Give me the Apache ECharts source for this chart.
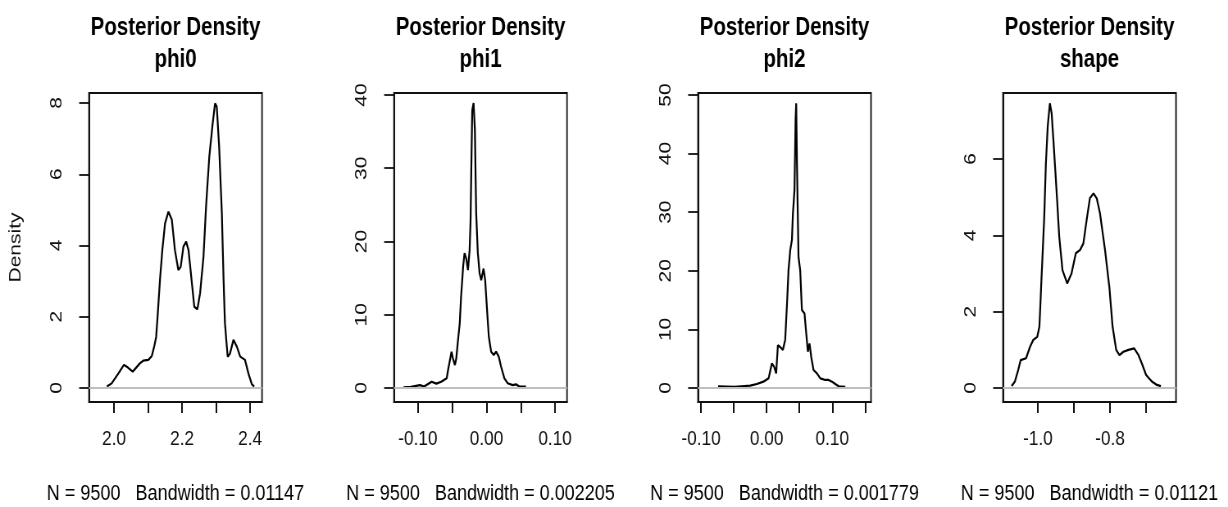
<!DOCTYPE html>
<html>
<head>
<meta charset="utf-8">
<script src="https://cdn.jsdelivr.net/npm/echarts@6/dist/echarts.min.js"></script>
<style>
html,body{margin:0;padding:0;background:#fff;overflow:hidden;}
#wrap{width:1228px;height:507px;overflow:hidden;position:relative;}
#c{width:1498px;height:507px;transform:scaleX(0.81976);transform-origin:0 0;position:absolute;left:0;top:0;}
</style>
</head>
<body>
<div id="wrap"><div id="c"></div></div>
<script>
// ---- data ----
const panelNames = ['phi0', 'phi1', 'phi2', 'shape'];
const bandwidths = ['0.01147', '0.002205', '0.001779', '0.01121'];
const sampleN = 9500;

const phi0X = [1.979,1.993,2.013,2.029,2.040,2.055,2.076,2.086,2.101,2.111,2.118,2.124,2.130,2.135,2.142,2.150,2.160,2.170,2.179,2.189,2.196,2.204,2.212,2.219,2.228,2.236,2.245,2.253,2.263,2.271,2.280,2.290,2.297,2.302,2.309,2.317,2.322,2.326,2.334,2.341,2.351,2.361,2.371,2.385,2.395,2.405,2.412];
const phi0Y = [0.04,0.13,0.41,0.65,0.58,0.46,0.69,0.77,0.79,0.90,1.16,1.44,2.28,3.03,3.87,4.62,4.95,4.72,3.87,3.31,3.40,3.97,4.11,3.87,3.03,2.28,2.21,2.66,3.69,5.18,6.49,7.43,7.99,7.90,6.77,4.90,3.03,1.82,0.88,0.97,1.35,1.16,0.88,0.79,0.41,0.11,0.04];

const phi1X = [-0.121,-0.110,-0.097,-0.091,-0.080,-0.073,-0.066,-0.058,-0.056,-0.051,-0.049,-0.046,-0.044,-0.042,-0.039,-0.037,-0.034,-0.032,-0.0295,-0.027,-0.0246,-0.0232,-0.0222,-0.0208,-0.0188,-0.0169,-0.0150,-0.0126,-0.0101,-0.0077,-0.0043,-0.0019,0.0005,0.0034,0.0068,0.0106,0.0140,0.0179,0.0213,0.0261,0.0309,0.0382,0.0430,0.0478,0.0575];
const phi1Y = [0.1,0.15,0.4,0.2,0.86,0.6,0.86,1.32,2.46,4.96,4.05,3.14,4.05,6.1,8.83,12.5,16.6,18.4,17.7,16.1,18.8,22.9,29.3,37.9,38.9,35.2,23.8,18.4,15.7,14.7,16.3,14.7,11.1,7.0,4.96,4.5,4.96,4.28,2.9,1.32,0.64,0.4,0.5,0.2,0.2];

const phi2X = [-0.074,-0.050,-0.038,-0.025,-0.015,-0.005,0.003,0.008,0.0115,0.0145,0.0171,0.0206,0.0247,0.0282,0.0308,0.0333,0.0359,0.0385,0.0400,0.0424,0.0440,0.0450,0.0461,0.0485,0.0511,0.0537,0.0577,0.0603,0.0628,0.0653,0.0679,0.0714,0.0766,0.0817,0.0893,0.0944,0.0995,0.1046,0.1097,0.1198];
const phi2Y = [0.3,0.2,0.3,0.4,0.68,1.08,1.65,4.2,3.6,2.5,7.3,7.0,6.5,8.2,13.9,20.1,23.5,25.3,29.8,33.8,45.7,48.6,38.9,22.4,20.1,13.3,12.7,9.3,6.2,7.6,5.3,3.07,2.5,1.65,1.37,1.37,1.08,0.68,0.3,0.2];

const shapeX = [-1.073,-1.064,-1.055,-1.048,-1.033,-1.022,-1.013,-1.002,-0.996,-0.990,-0.983,-0.978,-0.973,-0.967,-0.962,-0.956,-0.948,-0.941,-0.932,-0.919,-0.907,-0.895,-0.883,-0.874,-0.865,-0.856,-0.846,-0.837,-0.828,-0.814,-0.802,-0.793,-0.783,-0.774,-0.763,-0.749,-0.733,-0.721,-0.712,-0.700,-0.684,-0.670,-0.659];
const shapeY = [0.05,0.17,0.47,0.73,0.78,1.08,1.26,1.34,1.61,2.92,4.40,5.89,6.85,7.46,7.20,6.32,5.10,3.96,3.09,2.74,3.00,3.53,3.62,3.79,4.40,4.97,5.10,4.97,4.58,3.62,2.65,1.61,1.00,0.86,0.95,1.00,1.04,0.86,0.65,0.34,0.17,0.08,0.05];

// tick positions and tick labels
const xTicks = [[2.0,2.1,2.2,2.3,2.4],[-0.10,-0.05,0,0.05,0.10],[-0.10,-0.05,0,0.05,0.10,0.15],[-1.0,-0.9,-0.8,-0.7]];
const xLabels = [[2.0,2.2,2.4],[-0.10,0,0.10],[-0.10,0,0.10],[-1.0,-0.8]];
const xDigits = [1,2,2,1];
const yTicks = [[0,2,4,6,8],[0,10,20,30,40],[0,10,20,30,40,50],[0,2,4,6]];
const xRanges = [[1.9265,2.435],[-0.1348,0.1174],[-0.1046,0.159],[-1.097,-0.617]];
const yRanges = [[-0.393,8.281],[-1.911,40.27],[-2.39,50.34],[-0.367,7.73]];

const xs = [phi0X, phi1X, phi2X, shapeX];
const ys = [phi0Y, phi1Y, phi2Y, shapeY];

// ---- layout (chart is drawn wider, then squeezed horizontally by S like the reference) ----
const S = 0.81976;
const boxLeft = [89, 394, 698, 1003].map(v => v / S);
const boxW = 173 / S, boxTop = 93, boxH = 309;
const font = "'Liberation Sans', Arial, sans-serif";

const grids = [], xAxes = [], yAxes = [], series = [], graphics = [];
for (let i = 0; i < 4; i++) {
  grids.push({left: boxLeft[i], top: boxTop, width: boxW, height: boxH, show: true,
    borderColor: '#111', borderWidth: 1.8, backgroundColor: 'transparent', containLabel: false});
  xAxes.push({type: 'value', gridIndex: i, min: xRanges[i][0], max: xRanges[i][1],
    splitLine: {show: false},
    axisLine: {show: true, onZero: false, lineStyle: {color: '#111', width: 1.8}},
    axisTick: {show: true, inside: false, length: 11, customValues: xTicks[i], lineStyle: {color: '#111', width: 2}},
    axisLabel: {show: true, customValues: xLabels[i], margin: 27, color: '#111',
      fontFamily: font, fontSize: 21,
      formatter: (v) => Number(v).toFixed(xDigits[i])}
  });
  yAxes.push({type: 'value', gridIndex: i, min: yRanges[i][0], max: yRanges[i][1],
    splitLine: {show: false},
    axisLine: {show: true, onZero: false, lineStyle: {color: '#111', width: 2}},
    axisTick: {show: true, inside: false, length: 12, customValues: yTicks[i], lineStyle: {color: '#111', width: 1.8}},
    axisLabel: {show: true, customValues: yTicks[i], rotate: 90, margin: 29, color: '#111',
      fontFamily: font, fontSize: 21, formatter: (v) => String(Math.round(v))},
    name: i === 0 ? 'Density' : '', nameLocation: 'middle', nameRotate: 90, nameGap: 79,
    nameTextStyle: {fontFamily: font, fontSize: 21, color: '#111'}
  });
  const pts = xs[i].map((x, k) => [x, ys[i][k]]);
  series.push({type: 'line', xAxisIndex: i, yAxisIndex: i, data: pts, showSymbol: false,
    symbol: 'none', lineStyle: {color: '#000', width: 2.2}, z: 3,
    markLine: {silent: true, symbol: 'none', label: {show: false},
      lineStyle: {color: '#bebebe', width: 1.8, type: 'solid'}, data: [{yAxis: 0}], z: 4}});
  const cx = boxLeft[i] + boxW / 2;
  graphics.push({type: 'text', x: cx, y: 28, style: {text: 'Posterior Density', align: 'center', verticalAlign: 'middle',
    fontFamily: font, fontSize: 25, fontWeight: 'bold', fill: '#000'}});
  graphics.push({type: 'text', x: cx, y: 60, style: {text: panelNames[i], align: 'center', verticalAlign: 'middle',
    fontFamily: font, fontSize: 25, fontWeight: 'bold', fill: '#000'}});
  graphics.push({type: 'text', x: cx, y: 494, style: {text: 'N = ' + sampleN + '   Bandwidth = ' + bandwidths[i],
    align: 'center', verticalAlign: 'middle', fontFamily: font, fontSize: 22, fill: '#000'}});
}

const chart = echarts.init(document.getElementById('c'), null, {renderer: 'canvas'});
chart.setOption({
  animation: false,
  backgroundColor: '#fff',
  grid: grids, xAxis: xAxes, yAxis: yAxes, series: series, graphic: graphics
});
</script>
</body>
</html>
